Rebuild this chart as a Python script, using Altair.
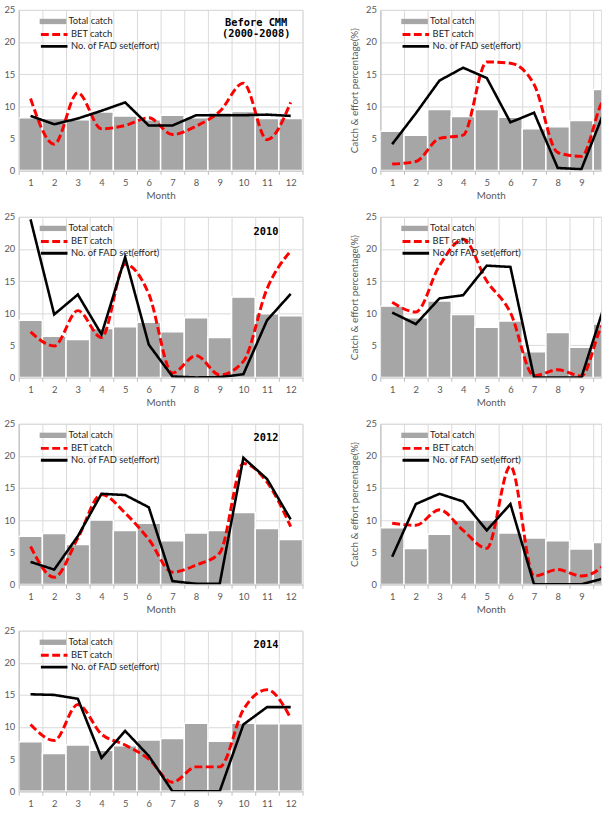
import altair as alt
import pandas as pd

months = list(range(1, 13))
panels = ["Before CMM (2000-2008)", "2009", "2010", "2011", "2012", "2013", "2014"]
left_panels = ["Before CMM (2000-2008)", "2010", "2012", "2014"]
right_panels = ["2009", "2011", "2013"]
panel_notes = {"Before CMM (2000-2008)": "Before CMM\n(2000-2008)", "2010": "2010", "2012": "2012", "2014": "2014"}

total_catch = {
    "Before CMM (2000-2008)": [8.2, 8.1, 7.9, 9.1, 8.5, 7.9, 8.6, 8.2, 9.0, 9.2, 8.1, 8.1],
    "2009": [6.1, 5.5, 9.5, 8.4, 9.5, 8.3, 6.5, 6.8, 7.8, 12.6, 9.5, 9.5],
    "2010": [8.9, 6.4, 5.9, 7.6, 7.9, 8.6, 7.1, 9.3, 6.2, 12.5, 9.9, 9.6],
    "2011": [11.1, 9.3, 11.9, 9.8, 7.8, 8.8, 4.0, 7.0, 4.7, 8.3, 8.6, 8.6],
    "2012": [7.5, 7.9, 6.2, 10.0, 8.4, 9.5, 6.8, 8.0, 8.4, 11.2, 8.7, 7.0],
    "2013": [8.8, 5.6, 7.8, 10.0, 10.0, 8.0, 7.2, 6.8, 5.5, 6.5, 12.0, 11.8],
    "2014": [7.7, 5.9, 7.2, 6.4, 7.1, 8.0, 8.2, 10.6, 7.8, 10.6, 10.5, 10.5],
}
bet_catch = {
    "Before CMM (2000-2008)": [11.2, 4.1, 12.1, 6.5, 7.0, 8.2, 5.6, 6.9, 9.2, 13.6, 4.8, 10.6],
    "2009": [1.0, 1.4, 5.0, 5.5, 16.9, 16.7, 13.4, 2.8, 2.2, 11.2, 12.0, 11.9],
    "2010": [7.1, 4.9, 10.4, 6.2, 17.6, 13.0, 0.7, 3.4, 0.4, 2.5, 13.8, 19.7],
    "2011": [11.7, 10.2, 17.4, 21.5, 15.0, 10.1, 0.25, 1.2, 0.2, 8.4, 2.0, 2.0],
    "2012": [5.9, 1.1, 7.2, 14.0, 11.1, 7.0, 1.9, 3.0, 4.9, 18.8, 15.9, 9.0],
    "2013": [9.5, 9.2, 11.6, 8.4, 5.6, 18.4, 1.3, 2.3, 1.3, 3.2, 14.0, 14.0],
    "2014": [10.4, 7.9, 13.5, 8.9, 7.2, 5.0, 1.4, 3.8, 3.8, 12.7, 15.8, 11.4],
}
fad_effort = {
    "Before CMM (2000-2008)": [8.5, 7.2, 8.1, 9.3, 10.6, 7.0, 7.0, 8.6, 8.6, 8.6, 8.7, 8.5],
    "2009": [4.1, 8.9, 14.0, 16.0, 14.4, 7.5, 9.0, 0.4, 0.2, 9.5, 8.0, 8.0],
    "2010": [24.6, 9.8, 12.9, 6.7, 18.7, 5.1, 0.15, 0.0, 0.05, 0.5, 8.9, 13.0],
    "2011": [10.1, 8.3, 12.3, 12.8, 17.4, 17.2, 0.0, 0.0, 0.0, 11.5, 5.0, 5.0],
    "2012": [3.5, 2.3, 7.5, 14.1, 13.9, 12.0, 0.5, 0.1, 0.1, 19.7, 16.4, 10.1],
    "2013": [4.3, 12.5, 14.1, 12.9, 8.4, 12.5, 0.0, 0.0, 0.0, 1.0, 17.0, 16.8],
    "2014": [15.1, 15.0, 14.4, 5.2, 9.4, 5.5, 0.0, 0.0, 0.0, 10.4, 13.1, 13.1],
}
y_ticks = [0, 5, 10, 15, 20, 25]
month_bounds = [m - 0.5 for m in months] + [12.5]

rows = []
for p in panels:
    for i, m in enumerate(months):
        rows.append({"panel": p, "month": m, "total": total_catch[p][i],
                     "bet": bet_catch[p][i], "fad": fad_effort[p][i]})
df = pd.DataFrame(rows)

FONT = "Lato"
GRID = "#d9d9d9"
LABEL = "#595959"
STEP = 24          # px per month
PH = 163           # plot height


def panel(name, right, last=False):
    xmax = 0.5 + 224 / STEP if right else 12.5
    width = 224 if right else 12 * STEP
    lastlabel = 9.5 if right else 12.5
    src = alt.Chart(df).transform_filter(alt.datum.panel == name)
    xscale = alt.Scale(domain=[0.5, xmax], nice=False, zero=False)
    yscale = alt.Scale(domain=[0, 25], nice=False)
    xaxis = alt.Axis(values=month_bounds, grid=True, gridColor=GRID, ticks=True, tickSize=4,
                     tickColor="#bfbfbf", domainColor="#bfbfbf",
                     labelExpr=f"datum.value < {lastlabel} ? format(datum.value + 0.5, 'd') : ''",
                     labelOffset=STEP / 2, labelFlush=False, labelOverlap=False, labelPadding=3,
                     labelFont=FONT, labelFontSize=9.5, labelColor=LABEL,
                     title=None if last else "Month", titleFont=FONT, titleFontSize=10,
                     titleFontWeight="normal", titleColor=LABEL, titlePadding=4)
    yaxis = alt.Axis(values=y_ticks, grid=True, gridColor=GRID, ticks=False, domainColor="#bfbfbf",
                     labelFont=FONT, labelFontSize=9.5, labelColor=LABEL, labelPadding=4,
                     title="Catch & effort  percentage(%)" if right else None,
                     titleFont=FONT, titleFontSize=10, titleFontWeight="normal",
                     titleColor=LABEL, titlePadding=6)
    bar_legend = alt.Legend(title=None, orient="none", legendX=30, legendY=7,
                            symbolType="M-3,-0.6H3V0.6H-3Z", symbolSize=81, symbolStrokeWidth=0,
                            labelFont=FONT, labelFontSize=9.5, labelColor="#262626",
                            labelOffset=11, padding=0)
    line_legend = alt.Legend(title=None, orient="none", legendX=30, legendY=19,
                             symbolType="M-3,0H3", symbolSize=81, symbolStrokeWidth=3,
                             labelFont=FONT, labelFontSize=9.5, labelColor="#262626",
                             labelOffset=11, padding=0, rowPadding=-1)
    series_dom = ["BET catch", "No. of FAD set(effort)"]
    cscale = alt.Scale(domain=series_dom, range=["#ff0000", "#000000"])
    dscale = alt.Scale(domain=series_dom, range=[[8, 3.5], [1, 0]])

    bars = src.transform_calculate(
        x0="datum.month - 0.5", x1="datum.month + 0.5", base="0", series="'Total catch'"
    ).mark_bar(clip=True, stroke="white", strokeWidth=1.5).encode(
        x=alt.X("x0:Q", scale=xscale, axis=xaxis),
        x2="x1:Q",
        y=alt.Y("total:Q", scale=yscale, axis=yaxis),
        y2="base:Q",
        color=alt.Color("series:N", scale=alt.Scale(domain=["Total catch"], range=["#a6a6a6"]),
                        legend=bar_legend),
    )
    red = src.transform_calculate(series="'BET catch'").mark_line(
        clip=True, interpolate="monotone", strokeWidth=3).encode(
        x=alt.X("month:Q", scale=xscale, axis=xaxis),
        y=alt.Y("bet:Q", scale=yscale, axis=yaxis),
        color=alt.Color("series:N", scale=cscale, legend=line_legend),
        strokeDash=alt.StrokeDash("series:N", scale=dscale, legend=line_legend),
    )
    black = src.transform_calculate(series="'No. of FAD set(effort)'").mark_line(
        clip=True, strokeWidth=2.6).encode(
        x=alt.X("month:Q", scale=xscale, axis=xaxis),
        y=alt.Y("fad:Q", scale=yscale, axis=yaxis),
        color=alt.Color("series:N", scale=cscale, legend=line_legend),
        strokeDash=alt.StrokeDash("series:N", scale=dscale, legend=line_legend),
    )
    layers = [bars, alt.layer(red, black)]
    if not right:
        note = panel_notes[name]
        multi = "\n" in note
        txt = alt.Chart(pd.DataFrame({"t": [note]})).mark_text(
            font="DejaVu Sans Mono", fontWeight="bold", fontSize=10.5, align="center",
            baseline="top", lineBreak="\n", lineHeight=12, color="#000000",
        ).encode(x=alt.value(241 if multi else 251), y=alt.value(8 if multi else 10), text="t:N")
        layers.append(txt)
    return alt.layer(*layers).resolve_scale(color="independent", strokeDash="independent").properties(
        width=width, height=PH)


left_col = alt.vconcat(*[panel(p, False, last=(p == "2014")) for p in left_panels], spacing=10
                       ).resolve_scale(color="independent", strokeDash="independent")
right_col = alt.vconcat(*[panel(p, True) for p in right_panels], spacing=10
                        ).resolve_scale(color="independent", strokeDash="independent")

chart = alt.hconcat(left_col, right_col, spacing=34).resolve_scale(
    color="independent", strokeDash="independent"
).properties(
    padding={"left": 3, "top": -2, "right": 0, "bottom": 0}
).configure_view(stroke=None).configure(background="white")

chart.save("out.html", embed_options={"renderer": "svg", "actions": False})
